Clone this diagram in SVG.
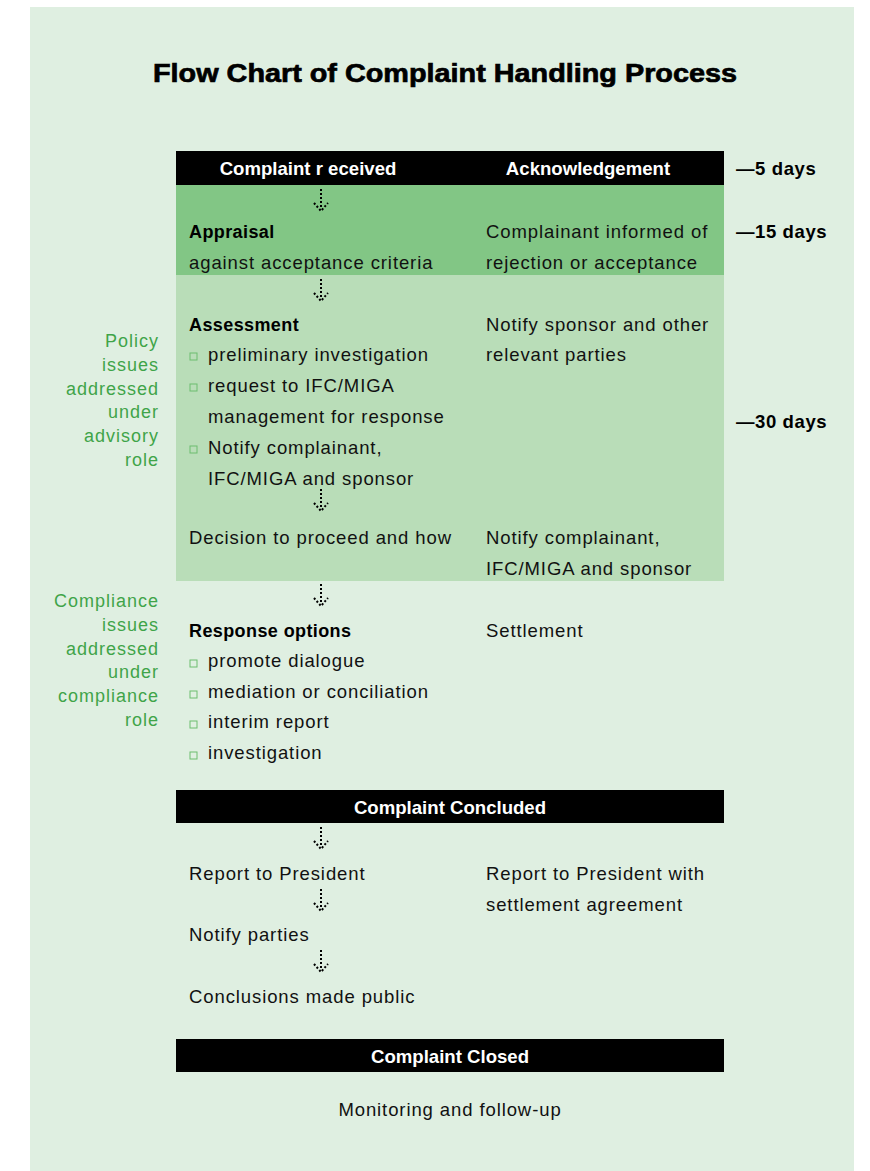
<svg xmlns="http://www.w3.org/2000/svg" width="870" height="1171" viewBox="0 0 870 1171">
<style>
.t{font-family:"Liberation Sans",Arial,sans-serif;font-size:18.5px;letter-spacing:0.9px;fill:#111}
.b{font-family:"Liberation Sans",Arial,sans-serif;font-size:18px;font-weight:bold;letter-spacing:0.4px;fill:#000}
.h{font-family:"Liberation Sans",Arial,sans-serif;font-size:18.6px;font-weight:bold;fill:#fff;text-anchor:middle}
.d{font-family:"Liberation Sans",Arial,sans-serif;font-size:18.5px;font-weight:bold;letter-spacing:0.6px;fill:#000}
.g{font-family:"Liberation Sans",Arial,sans-serif;font-size:18px;letter-spacing:1px;fill:#3fa449;text-anchor:end}
.bar{fill:#000}
.sq{fill:none;stroke:#6cbd6f;stroke-width:1}
.dot{fill:none;stroke:#000;stroke-width:2;stroke-dasharray:2 2}
</style>
<defs>
<g id="arrow">
<path class="dot" d="M0,0 V20"/>
<path class="dot" d="M-7,14 L0,22 L7,14"/>
</g>
<rect id="bullet" class="sq" x="0" y="-7" width="7" height="7"/>
</defs>
<rect x="30" y="7" width="824" height="1164" fill="#dfefe1"/>
<text x="445" y="82" text-anchor="middle" textLength="584" lengthAdjust="spacingAndGlyphs" style="font-family:'Liberation Sans',Arial,sans-serif;font-size:26px;font-weight:bold;fill:#000;stroke:#000;stroke-width:0.7">Flow Chart of Complaint Handling Process</text>

<g id="received">
<rect class="bar" x="176" y="151" width="548" height="34"/>
<text class="h" x="308" y="174.5">Complaint r eceived</text>
<text class="h" x="588" y="174.5">Acknowledgement</text>
</g>
<g id="days">
<text class="d" x="736" y="174.5">—5 days</text>
<text class="d" x="736" y="237.5">—15 days</text>
<text class="d" x="736" y="427.5">—30 days</text>
</g>
<g id="appraisal">
<rect x="176" y="185" width="548" height="90" fill="#82c685"/>
<text class="b" x="189" y="238">Appraisal</text>
<text class="t" x="189" y="269">against acceptance criteria</text>
<text class="t" x="486" y="238">Complainant informed of</text>
<text class="t" x="486" y="269">rejection or acceptance</text>
</g>
<g id="assessment">
<rect x="176" y="275" width="548" height="306" fill="#b9ddb8"/>
<text class="b" x="189" y="331">Assessment</text>
<use href="#bullet" x="190" y="360"/>
<text class="t" x="208" y="361">preliminary investigation</text>
<use href="#bullet" x="190" y="391"/>
<text class="t" x="208" y="392">request to IFC/MIGA</text>
<text class="t" x="208" y="423">management for response</text>
<use href="#bullet" x="190" y="453"/>
<text class="t" x="208" y="454">Notify complainant,</text>
<text class="t" x="208" y="485">IFC/MIGA and sponsor</text>
<text class="t" x="486" y="331">Notify sponsor and other</text>
<text class="t" x="486" y="361">relevant parties</text>
</g>
<g id="decision">
<text class="t" x="189" y="544">Decision to proceed and how</text>
<text class="t" x="486" y="544">Notify complainant,</text>
<text class="t" x="486" y="575">IFC/MIGA and sponsor</text>
</g>
<g id="policy-note">
<text class="g" x="159" y="347">Policy</text>
<text class="g" x="159" y="371">issues</text>
<text class="g" x="159" y="395">addressed</text>
<text class="g" x="159" y="418">under</text>
<text class="g" x="159" y="442">advisory</text>
<text class="g" x="159" y="466">role</text>
</g>
<g id="compliance-note">
<text class="g" x="159" y="607">Compliance</text>
<text class="g" x="159" y="631">issues</text>
<text class="g" x="159" y="655">addressed</text>
<text class="g" x="159" y="678">under</text>
<text class="g" x="159" y="702">compliance</text>
<text class="g" x="159" y="726">role</text>
</g>
<g id="response">
<text class="b" x="189" y="637">Response options</text>
<use href="#bullet" x="190" y="667"/>
<text class="t" x="208" y="667">promote dialogue</text>
<use href="#bullet" x="190" y="698"/>
<text class="t" x="208" y="698">mediation or conciliation</text>
<use href="#bullet" x="190" y="728"/>
<text class="t" x="208" y="728">interim report</text>
<use href="#bullet" x="190" y="759"/>
<text class="t" x="208" y="759">investigation</text>
<text class="t" x="486" y="637">Settlement</text>
</g>
<g id="concluded">
<rect class="bar" x="176" y="790" width="548" height="33"/>
<text class="h" x="450" y="813.5">Complaint Concluded</text>
</g>
<g id="report">
<text class="t" x="189" y="880">Report to President</text>
<text class="t" x="486" y="880">Report to President with</text>
<text class="t" x="486" y="911">settlement agreement</text>
</g>
<g id="notify">
<text class="t" x="189" y="941">Notify parties</text>
</g>
<g id="public">
<text class="t" x="189" y="1003">Conclusions made public</text>
</g>
<g id="closed">
<rect class="bar" x="176" y="1039" width="548" height="33"/>
<text class="h" x="450" y="1062.5">Complaint Closed</text>
</g>
<g id="monitoring">
<text class="t" x="450" y="1116" text-anchor="middle">Monitoring and follow-up</text>
</g>
<g id="connectors">
<use href="#arrow" x="321" y="189"/>
<use href="#arrow" x="321" y="279"/>
<use href="#arrow" x="321" y="489"/>
<use href="#arrow" x="321" y="584"/>
<use href="#arrow" x="321" y="827"/>
<use href="#arrow" x="321" y="889"/>
<use href="#arrow" x="321" y="950"/>
</g>
</svg>
